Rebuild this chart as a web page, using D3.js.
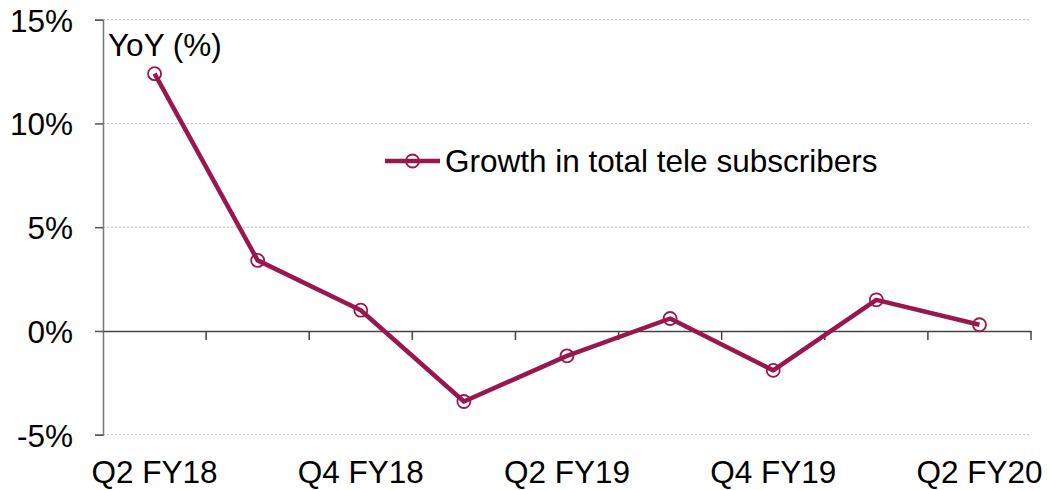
<!DOCTYPE html>
<meta charset="utf-8">
<style>
body { margin:0; background:#fff; }
text { font-family: "Liberation Sans", Arial, sans-serif; fill:#000; }
.grid line { stroke:#bbb; stroke-dasharray:2,2; stroke-width:1; }
</style>
<body>
<div id="chart"></div>
<script src="https://d3js.org/d3.v7.min.js"></script>
<script>
var quarters = ["Q2 FY18","Q3 FY18","Q4 FY18","Q1 FY19","Q2 FY19","Q3 FY19","Q4 FY19","Q1 FY20","Q2 FY20"];
var growth = [12.4, 3.4, 1.0, -3.4, -1.2, 0.6, -1.9, 1.5, 0.3];
var yTicks = [-5, 0, 5, 10, 15];
var shownLabels = ["Q2 FY18","Q4 FY18","Q2 FY19","Q4 FY19","Q2 FY20"];
var seriesName = "Growth in total tele subscribers";

var width = 1050, height = 490;
var mLeft = 103, mRight = 1031, mTop = 19.7, mBottom = 434.7;
var col = "#99174d";
var fs = 31.5;

var svg = d3.select("#chart").append("svg")
    .attr("width", width)
    .attr("height", height);

var x = d3.scaleBand().domain(quarters).range([mLeft, mRight]);
var y = d3.scaleLinear().domain([-5, 15]).range([mBottom, mTop]);

// dotted gridlines
svg.append("g").attr("class", "grid")
  .selectAll("line")
  .data(yTicks.filter(function(d){ return d != 0; }))
  .enter().append("line")
    .attr("x1", mLeft).attr("x2", mRight)
    .attr("y1", function(d){ return y(d); })
    .attr("y2", function(d){ return y(d); });

// y axis
var ya = svg.append("g")
    .attr("transform", "translate(" + mLeft + ",0)")
    .call(d3.axisLeft(y).tickValues(yTicks).tickSize(8).tickPadding(22)
      .tickFormat(function(d){ return d + "%"; }));
ya.select(".domain").attr("stroke", "#777").attr("stroke-width", 1.5);
ya.selectAll(".tick line").attr("stroke", "#555").attr("stroke-width", 1.5);
ya.selectAll("text").attr("font-size", fs).attr("font-family", "Liberation Sans, Arial, sans-serif").attr("dy", "0.36em");

// x axis on zero line
var xa = svg.append("g")
    .attr("transform", "translate(0," + y(0) + ")")
    .call(d3.axisBottom(x).tickSize(0).tickSizeOuter(0).tickFormat(function(d){
      return shownLabels.indexOf(d) >= 0 ? d : "";
    }));
xa.select(".domain").attr("stroke", "#444").attr("stroke-width", 1.5);
xa.selectAll("text")
    .attr("font-size", fs)
    .attr("font-family", "Liberation Sans, Arial, sans-serif")
    .attr("y", y(-5) - y(0) + 48)
    .attr("dy", 0);

// band boundary ticks
var bounds = quarters.map(function(q){ return x(q) + x.bandwidth(); });
xa.selectAll(".bt").data(bounds).enter().append("line")
    .attr("class", "bt")
    .attr("x1", function(d){ return d; }).attr("x2", function(d){ return d; })
    .attr("y1", 0).attr("y2", 9)
    .attr("stroke", "#444").attr("stroke-width", 1.5);

// series line
var line = d3.line()
    .x(function(d, i){ return x(quarters[i]) + x.bandwidth() / 2; })
    .y(function(d){ return y(d); });

svg.append("path")
    .datum(growth)
    .attr("fill", "none")
    .attr("stroke", col)
    .attr("stroke-width", 4.5)
    .attr("stroke-linejoin", "round")
    .attr("d", line);

svg.selectAll(".pt")
  .data(growth)
  .enter().append("circle")
    .attr("class", "pt")
    .attr("cx", function(d, i){ return x(quarters[i]) + x.bandwidth() / 2; })
    .attr("cy", function(d){ return y(d); })
    .attr("r", 6.5)
    .attr("fill", "none")
    .attr("stroke", col)
    .attr("stroke-width", 1.8);

// y title
svg.append("text")
    .attr("x", 108).attr("y", 56)
    .attr("font-size", fs)
    .text("YoY (%)");

// legend
var lg = svg.append("g").attr("transform", "translate(385,161)");
lg.append("line").attr("x1", 0).attr("x2", 55).attr("y1", 0).attr("y2", 0)
    .attr("stroke", col).attr("stroke-width", 4.5);
lg.append("circle").attr("cx", 27.5).attr("cy", 0).attr("r", 6.5)
    .attr("fill", "none").attr("stroke", col).attr("stroke-width", 1.8);
lg.append("text").attr("x", 60).attr("y", 0).attr("dy", "0.35em")
    .attr("font-size", fs)
    .text(seriesName);
</script>
</body>
